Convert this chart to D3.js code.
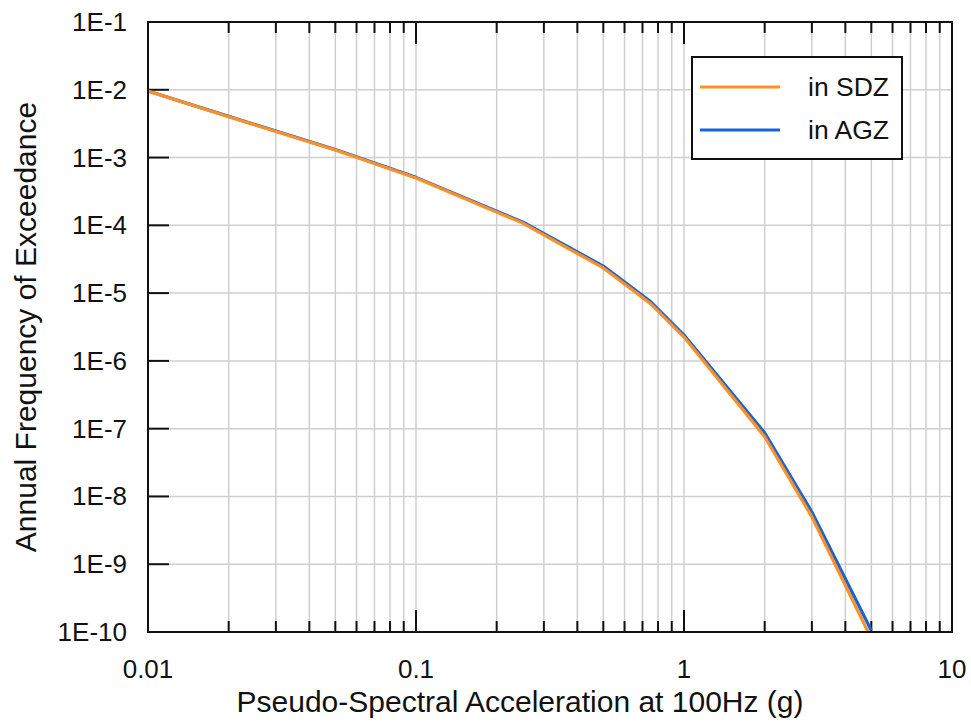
<!DOCTYPE html>
<html><head><meta charset="utf-8">
<script src="https://cdn.jsdelivr.net/npm/d3@7"></script>
<style>body{margin:0;background:#fff}svg{display:block}text{font-family:"Liberation Sans",Arial,sans-serif;fill:#111}</style>
</head><body>
<script>
const xValues = [0.01, 0.02, 0.05, 0.1, 0.25, 0.5, 0.75, 1, 2, 3, 5];
const sdz = [9.6e-3, 4.0e-3, 1.29e-3, 5.0e-4, 1.08e-4, 2.35e-5, 7.0e-6, 2.25e-6, 7.6e-8, 5.0e-9, 8.0e-11];
const agz = [9.6e-3, 4.05e-3, 1.31e-3, 5.1e-4, 1.12e-4, 2.5e-5, 7.5e-6, 2.4e-6, 8.7e-8, 5.9e-9, 1.05e-10];
const seriesNames = ["in SDZ", "in AGZ"];
const seriesColors = ["#FF9025", "#1565D8"];
const xTickLabels = ["0.01", "0.1", "1", "10"];
const yTickLabels = ["1E-1","1E-2","1E-3","1E-4","1E-5","1E-6","1E-7","1E-8","1E-9","1E-10"];
const xTitle = "Pseudo-Spectral Acceleration at 100Hz (g)";
const yTitle = "Annual Frequency of Exceedance";

const W = 971, H = 722;
const m = {l:148, r:952, t:22, b:632};
const svg = d3.select("body").append("svg").attr("width", W).attr("height", H);
const x = d3.scaleLog().domain([0.01, 10]).range([m.l, m.r]);
const y = d3.scaleLog().domain([1e-10, 1e-1]).range([m.b, m.t]);

const xMajor = [0.01, 0.1, 1, 10];
const xMinor = [];
for (const d of [0.01, 0.1, 1]) for (let k = 2; k <= 9; k++) xMinor.push(d * k);
const yMajor = d3.range(-1, -11, -1).map(e => Math.pow(10, e));

// grid
const g = svg.append("g");
g.selectAll(".vg").data(xMinor.concat(xMajor)).join("line")
  .attr("x1", d => x(d)).attr("x2", d => x(d)).attr("y1", m.t).attr("y2", m.b)
  .attr("stroke", "#cfcfcf").attr("stroke-width", 1.5);
g.selectAll(".hg").data(yMajor).join("line")
  .attr("y1", d => y(d)).attr("y2", d => y(d)).attr("x1", m.l).attr("x2", m.r)
  .attr("stroke", "#cfcfcf").attr("stroke-width", 1.5);

// ticks (inward)
const tk = svg.append("g").attr("stroke", "#111").attr("stroke-width", 2);
for (const d of xMinor) {
  tk.append("line").attr("x1", x(d)).attr("x2", x(d)).attr("y1", m.b).attr("y2", m.b - 11);
  tk.append("line").attr("x1", x(d)).attr("x2", x(d)).attr("y1", m.t).attr("y2", m.t + 11);
}
for (const d of xMajor) {
  tk.append("line").attr("x1", x(d)).attr("x2", x(d)).attr("y1", m.b).attr("y2", m.b - 22);
  tk.append("line").attr("x1", x(d)).attr("x2", x(d)).attr("y1", m.t).attr("y2", m.t + 22);
}
for (const d of yMajor) {
  tk.append("line").attr("y1", y(d)).attr("y2", y(d)).attr("x1", m.l).attr("x2", m.l + 21);
}

// lines
svg.append("clipPath").attr("id", "clip").append("rect")
  .attr("x", m.l).attr("y", m.t).attr("width", m.r - m.l).attr("height", m.b - m.t);
const line = d3.line().x(d => x(d[0])).y(d => y(d[1]));
const data = [sdz, agz].map(arr => xValues.map((v, i) => [v, arr[i]]));
const lg = svg.append("g").attr("clip-path", "url(#clip)");
[1, 0].forEach(i => {
  lg.append("path").datum(data[i]).attr("d", line).attr("fill", "none")
    .attr("stroke", seriesColors[i]).attr("stroke-width", 3.2).attr("stroke-linejoin", "round");
});

// frame
svg.append("rect").attr("x", m.l).attr("y", m.t).attr("width", m.r - m.l).attr("height", m.b - m.t)
  .attr("fill", "none").attr("stroke", "#111").attr("stroke-width", 2);

// tick labels
svg.selectAll(".xl").data(xMajor).join("text")
  .attr("x", d => x(d)).attr("y", 678).attr("text-anchor", "middle")
  .attr("font-size", 26).text((d, i) => xTickLabels[i]);
svg.selectAll(".yl").data(yMajor).join("text")
  .attr("x", 127).attr("y", d => y(d) + 9).attr("text-anchor", "end")
  .attr("font-size", 26).text((d, i) => yTickLabels[i]);

// titles
svg.append("text").attr("x", (m.l + m.r) / 2 - 30).attr("y", 712).attr("text-anchor", "middle")
  .attr("font-size", 30).text(xTitle);
svg.append("text").attr("transform", `translate(36,${(m.t + m.b) / 2}) rotate(-90)`)
  .attr("text-anchor", "middle").attr("font-size", 30).text(yTitle);

// legend
const L = svg.append("g");
L.append("rect").attr("x", 692).attr("y", 57).attr("width", 210).attr("height", 102)
  .attr("fill", "#fff").attr("stroke", "#111").attr("stroke-width", 2);
seriesNames.forEach((n, i) => {
  const yy = 87 + i * 43;
  L.append("line").attr("x1", 700).attr("x2", 780).attr("y1", yy).attr("y2", yy)
    .attr("stroke", seriesColors[i]).attr("stroke-width", 3.2);
  L.append("text").attr("x", 808).attr("y", yy + 9).attr("font-size", 26.5).text(n);
});
</script>
</body></html>
